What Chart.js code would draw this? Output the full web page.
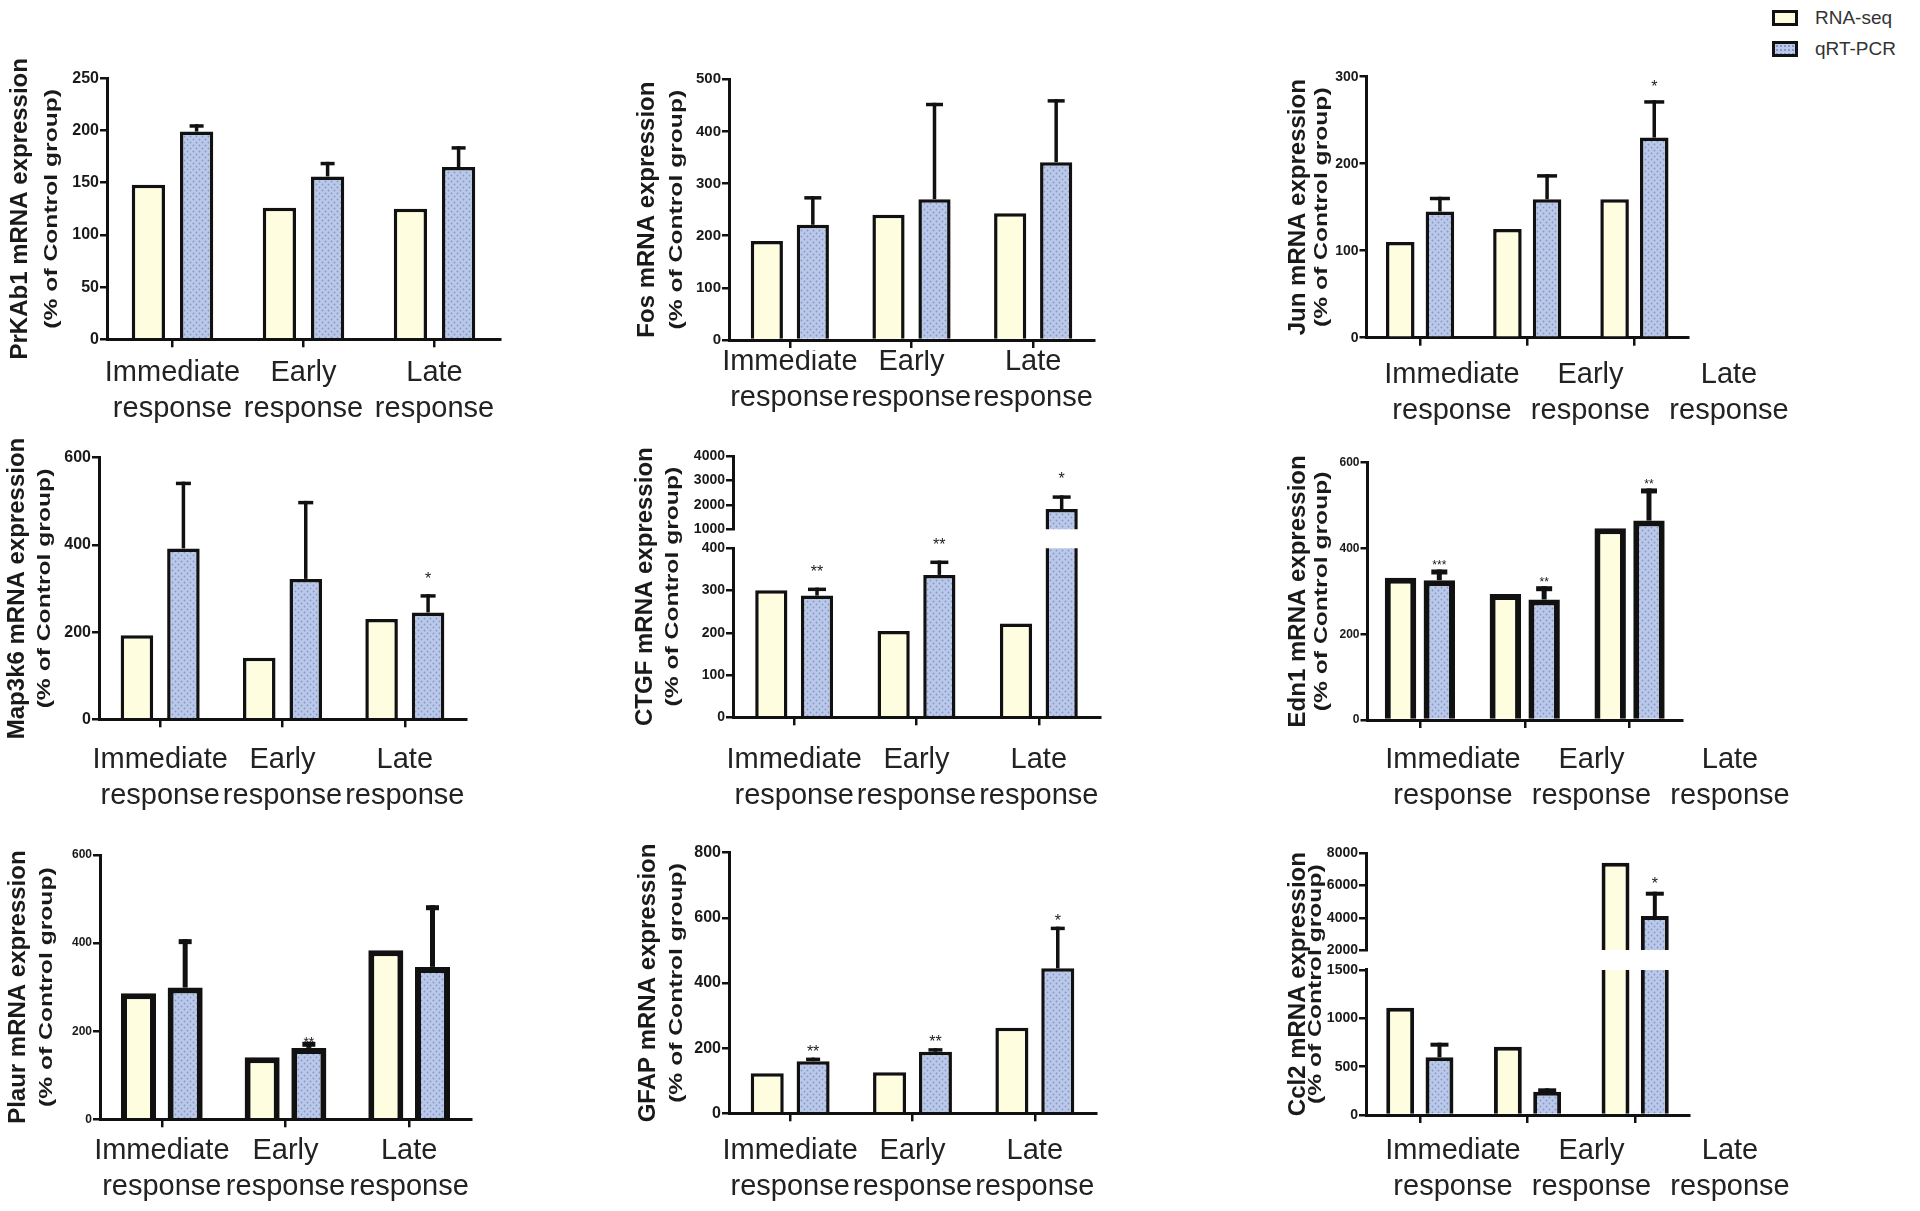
<!DOCTYPE html>
<html>
<head>
<meta charset="utf-8">
<script src="https://cdn.jsdelivr.net/npm/chart.js@4.4.1/dist/chart.umd.min.js"></script>
<style>
  body { margin: 0; width: 1920px; height: 1211px; background: #fff; position: relative; overflow: hidden; }
  .lg-box { position: absolute; width: 26px; height: 16px; border: 3px solid #111; box-sizing: border-box; }
  .lg-text { position: absolute; font: 19px "Liberation Sans", Arial, sans-serif; color: #333; line-height: 20px; }
  .cream { background: #FFFDE0; }
  .dots { background-color: #BAC8E9; background-image: radial-gradient(#8797C6 0.9px, transparent 1.1px); background-size: 4px 4px; }
</style>
</head>
<body>
<div class="lg-box cream" style="left:1772px;top:10px"></div>
<div class="lg-text" id="lg0" style="left:1815px;top:8px"></div>
<div class="lg-box dots" style="left:1772px;top:41px"></div>
<div class="lg-text" id="lg1" style="left:1815px;top:39px"></div>
<script>
const categories = [['Immediate', 'response'], ['Early', 'response'], ['Late', 'response']];
const seriesNames = ['RNA-seq', 'qRT-PCR'];
const genes = ['PrKAb1', 'Fos', 'Jun', 'Map3k6', 'CTGF', 'Edn1', 'Plaur', 'GFAP', 'Ccl2'];

// values are % of control group; sem = height of the error bar above the qRT-PCR mean
const prkab1RnaSeq = [148, 126, 125];
const prkab1Qpcr = [199, 156, 165];
const prkab1Sem = [7, 14, 20];
const prkab1Sig = ['', '', ''];

const fosRnaSeq = [190, 240, 243];
const fosQpcr = [221, 270, 341];
const fosSem = [55, 185, 121];
const fosSig = ['', '', ''];

const junRnaSeq = [110, 125, 159];
const junQpcr = [145, 159, 230];
const junSem = [17, 29, 43];
const junSig = ['', '', '*'];

const map3k6RnaSeq = [193, 141, 230];
const map3k6Qpcr = [392, 322, 245];
const map3k6Sem = [153, 179, 42];
const map3k6Sig = ['', '', '*'];

const ctgfRnaSeq = [301, 204, 222];
const ctgfQpcr = [288, 337, 1830];
const ctgfSem = [19, 34, 560];
const ctgfSig = ['**', '**', '*'];

const edn1RnaSeq = [332, 294, 447];
const edn1Qpcr = [326, 281, 465];
const edn1Sem = [25, 31, 75];
const edn1Sig = ['***', '**', '**'];

const plaurRnaSeq = [286, 141, 384];
const plaurQpcr = [299, 162, 346];
const plaurSem = [110, 14, 140];
const plaurSig = ['', '**', ''];

const gfapRnaSeq = [123, 126, 263];
const gfapQpcr = [160, 189, 445];
const gfapSem = [11, 11, 128];
const gfapSig = ['**', '**', '*'];

const ccl2RnaSeq = [1110, 707, 7420];
const ccl2Qpcr = [597, 241, 4110];
const ccl2Sem = [151, 35, 1507];
const ccl2Sig = ['', '', '*'];

const FONT = '"Liberation Sans", Arial, sans-serif';
const colX = [0, 620, 1275];
const YW = 48, TICKH = 10, XH = 100, LINE_H = 36;

document.getElementById('lg0').textContent = seriesNames[0];
document.getElementById('lg1').textContent = seriesNames[1];

// area = [left, top, right, bottom] of the plot in page pixels; labelY = centre of the first label line
// labelAt = [centre of first category label, spacing] when labels do not sit under the ticks
const panels = [
  { gene: genes[0], rna: prkab1RnaSeq, q: prkab1Qpcr, sem: prkab1Sem, sig: prkab1Sig, col: 0,
    y: { min: 0, max: 250, step: 50 }, area: [107, 78.3, 500, 339.3], titleX: [20, 52], labelY: 373,
    tickSize: 16, border: 3.5, cat: 0.736, bar: 0.69, errW: 3.5, capW: 14, sigGap: 17, sigSize: 16 },
  { gene: genes[1], rna: fosRnaSeq, q: fosQpcr, sem: fosSem, sig: fosSig, col: 1,
    y: { min: 0, max: 500, step: 100 }, area: [729, 79.3, 1094, 340], titleX: [647, 677], labelY: 362,
    tickSize: 15, border: 3.5, cat: 0.756, bar: 0.70, errW: 3.5, capW: 17, sigGap: 17, sigSize: 16 },
  { gene: genes[2], rna: junRnaSeq, q: junQpcr, sem: junSem, sig: junSig, col: 2,
    y: { min: 0, max: 300, step: 100 }, area: [1366.5, 76.7, 1688, 337.7], titleX: [1298, 1322], labelY: 375,
    labelAt: [1452, 138.5],
    tickSize: 14, border: 3.5, cat: 0.74, bar: 0.72, errW: 3.5, capW: 20, sigGap: 17, sigSize: 16 },
  { gene: genes[3], rna: map3k6RnaSeq, q: map3k6Qpcr, sem: map3k6Sem, sig: map3k6Sig, col: 0,
    y: { min: 0, max: 600, step: 200 }, area: [99, 457.7, 466, 719.3], titleX: [17, 45], labelY: 760,
    tickSize: 16, border: 3.5, cat: 0.76, bar: 0.70, errW: 3.5, capW: 15, sigGap: 19, sigSize: 16 },
  { gene: genes[4], rna: ctgfRnaSeq, q: ctgfQpcr, sem: ctgfSem, sig: ctgfSig, col: 1,
    y: { min: 0, max: 400, step: 100, h: 169 }, brk: { min: 1000, max: 4000, step: 1000, h: 73.3, gap: 19 },
    area: [733, 456, 1100, 717.3], titleX: [645, 673], labelY: 760,
    tickSize: 14, border: 3.5, cat: 0.747, bar: 0.705, errW: 3.5, capW: 18, sigGap: 20, sigSize: 16 },
  { gene: genes[5], rna: edn1RnaSeq, q: edn1Qpcr, sem: edn1Sem, sig: edn1Sig, col: 2,
    y: { min: 0, max: 600, step: 200 }, area: [1367.5, 462.7, 1682, 720], titleX: [1298, 1322], labelY: 760,
    labelAt: [1453, 138.5],
    tickSize: 12, border: 6, cat: 0.74, bar: 0.81, errW: 5, capW: 16, sigGap: 7, sigSize: 12 },
  { gene: genes[6], rna: plaurRnaSeq, q: plaurQpcr, sem: plaurSem, sig: plaurSig, col: 0,
    y: { min: 0, max: 600, step: 200 }, area: [100, 855, 471, 1119.3], titleX: [18, 47], labelY: 1151,
    tickSize: 12, border: 6, cat: 0.755, bar: 0.75, errW: 5, capW: 13, sigGap: 3, sigSize: 14 },
  { gene: genes[7], rna: gfapRnaSeq, q: gfapQpcr, sem: gfapSem, sig: gfapSig, col: 1,
    y: { min: 0, max: 800, step: 200 }, area: [729, 852.7, 1096, 1113.3], titleX: [648, 677], labelY: 1151,
    tickSize: 16, border: 3.5, cat: 0.75, bar: 0.72, errW: 3.5, capW: 14, sigGap: 10, sigSize: 16 },
  { gene: genes[8], rna: ccl2RnaSeq, q: ccl2Qpcr, sem: ccl2Sem, sig: ccl2Sig, col: 2,
    y: { min: 0, max: 1500, step: 500, h: 145 }, brk: { min: 2000, max: 8000, step: 2000, h: 96.7, gap: 20 },
    area: [1366, 853.3, 1689, 1115], titleX: [1298, 1316], labelY: 1151,
    labelAt: [1453, 138.5],
    tickSize: 14, border: 4, cat: 0.73, bar: 0.71, errW: 4, capW: 18, sigGap: 12, sigSize: 16 }
];

function dotPattern(ctx) {
  const tile = document.createElement('canvas');
  tile.width = 6; tile.height = 6;
  const g = tile.getContext('2d');
  g.fillStyle = '#BAC8E9';
  g.fillRect(0, 0, 6, 6);
  g.fillStyle = '#8797C6';
  [[1.5, 1.5], [4.5, 4.5]].forEach(([x, y]) => { g.beginPath(); g.arc(x, y, 0.9, 0, Math.PI * 2); g.fill(); });
  return ctx.createPattern(tile, 'repeat');
}

function valueAxis(p, cfg, extra) {
  return Object.assign({
    type: 'linear', axis: 'y', position: 'left', min: cfg.min, max: cfg.max,
    afterFit: s => { s.width = YW; },
    ticks: { stepSize: cfg.step, autoSkip: false, callback: v => String(v),
             font: { family: FONT, size: p.tickSize, weight: 'bold' }, color: '#1a1a1a', padding: 1 },
    grid: { drawOnChartArea: false, drawTicks: true, tickLength: 7, tickWidth: 2.5, tickColor: '#111', color: '#111', lineWidth: 2.5 },
    border: { display: true, color: '#111', width: 3 }
  }, extra);
}

function buildPanel(p) {
  const cx = colX[p.col];
  const [l, t, r, b] = p.area;
  const cy = Math.round(t - 60);
  const canvas = document.createElement('canvas');
  canvas.width = Math.round((p.labelAt ? 1915 : r + 40) - cx);
  canvas.height = Math.round(b - cy + TICKH + XH);
  canvas.style.cssText = `position:absolute;left:${cx}px;top:${cy}px;`;
  document.body.appendChild(canvas);
  const ctx = canvas.getContext('2d');
  const pattern = dotPattern(ctx);

  // label axis range: categories sit at 0, 1, 2
  const w = r - l;
  let lmin = -0.5, lmax = 2.5;
  if (p.labelAt) {
    const [c0, step] = p.labelAt;
    lmin = -(c0 - l) / step;
    lmax = lmin + w / step;
  }

  const scales = {
    x: {
      type: 'category', offset: true, weight: 0,
      afterFit: s => { s.height = TICKH; s.paddingLeft = 0; s.paddingRight = 0; },
      grid: { offset: false, drawOnChartArea: false, drawTicks: true, tickLength: 8, tickWidth: 2.5, tickColor: '#111', color: '#111', lineWidth: 2.5 },
      border: { display: true, color: '#111', width: 3 },
      ticks: { display: false }
    },
    xl: {
      type: 'linear', axis: 'x', position: 'bottom', weight: 1, offset: false, bounds: 'data', min: lmin, max: lmax,
      afterBuildTicks: s => { s.ticks = categories.map((c, i) => ({ value: i })); },
      afterFit: s => { s.height = XH; s.paddingLeft = 0; s.paddingRight = 0; },
      grid: { display: false, drawTicks: false, offset: false },
      border: { display: false },
      ticks: { callback: (v, i) => categories[i], autoSkip: false, maxRotation: 0, minRotation: 0,
               font: { family: FONT, size: 29, lineHeight: LINE_H / 29 }, color: '#222',
               padding: p.labelY - b - TICKH - LINE_H / 2 }
    }
  };

  const bar = (label, data, fill, axisId, stack) => {
    const ds = { label, data, backgroundColor: fill, borderColor: '#111', borderWidth: p.border,
                 categoryPercentage: p.cat, barPercentage: p.bar, clip: 0, xAxisID: 'x', yAxisID: axisId };
    if (stack) ds.stack = stack;
    return ds;
  };

  let datasets;
  if (p.brk) {
    const total = p.brk.h + p.brk.gap + p.y.h;
    scales.yTop = valueAxis(p, p.brk, { stack: 'v', stackWeight: p.brk.h / total, weight: 3 });
    scales.yGap = { type: 'linear', axis: 'y', position: 'left', min: 0, max: 1, stack: 'v',
                    stackWeight: p.brk.gap / total, weight: 2, afterFit: s => { s.width = YW; },
                    ticks: { display: false }, grid: { display: false }, border: { display: false } };
    scales.y = valueAxis(p, p.y, { stack: 'v', stackWeight: p.y.h / total, weight: 1 });
    datasets = [
      bar(seriesNames[0], p.rna, '#FFFDE0', 'y', 'a'),
      bar(seriesNames[1], p.q, pattern, 'y', 'b'),
      bar(seriesNames[0], p.rna, '#FFFDE0', 'yTop', 'a'),
      bar(seriesNames[1], p.q, pattern, 'yTop', 'b')
    ];
  } else {
    scales.y = valueAxis(p, p.y, {});
    datasets = [
      bar(seriesNames[0], p.rna, '#FFFDE0', 'y'),
      bar(seriesNames[1], p.q, pattern, 'y')
    ];
  }

  const extras = {
    id: 'extras' + p.gene,
    afterDatasetsDraw(chart) {
      const c = chart.ctx;
      const yB = chart.scales.y, yT = chart.scales.yTop;
      const px = v => (yT && v >= yT.min) ? yT.getPixelForValue(v) : yB.getPixelForValue(v);
      const meta = chart.getDatasetMeta(1);
      c.save();
      c.strokeStyle = '#111';
      c.fillStyle = '#1a1a1a';
      c.lineCap = 'butt';
      p.q.forEach((v, i) => {
        const x = meta.data[i].x;
        const y0 = px(v);
        const y1 = px(v + p.sem[i]);
        c.lineWidth = p.errW;
        c.beginPath();
        c.moveTo(x, y0);
        c.lineTo(x, y1);
        c.stroke();
        c.beginPath();
        c.moveTo(x - p.capW / 2, y1 + p.errW / 2);
        c.lineTo(x + p.capW / 2, y1 + p.errW / 2);
        c.stroke();
        if (p.sig[i]) {
          c.font = `${p.sigSize}px ${FONT}`;
          c.textAlign = 'center';
          c.textBaseline = 'alphabetic';
          c.fillText(p.sig[i], x, y1 - p.sigGap + 0.57 * p.sigSize);
        }
      });
      c.restore();
    },
    afterDraw(chart) {
      const c = chart.ctx;
      const a = chart.chartArea;
      const midY = (a.top + a.bottom) / 2;
      c.save();
      c.fillStyle = '#1a1a1a';
      c.textAlign = 'center';
      c.textBaseline = 'middle';
      c.translate(p.titleX[0] - cx, midY);
      c.rotate(-Math.PI / 2);
      c.font = `bold 24px ${FONT}`;
      c.fillText(p.gene + ' mRNA expression', 0, 0);
      c.restore();
      c.save();
      c.fillStyle = '#1a1a1a';
      c.textAlign = 'center';
      c.textBaseline = 'middle';
      c.translate(p.titleX[1] - cx, midY);
      c.rotate(-Math.PI / 2);
      c.scale(1.37, 1);
      c.font = `bold 18px ${FONT}`;
      c.fillText('(% of Control group)', 0, 0);
      c.restore();
    }
  };

  new Chart(canvas, {
    type: 'bar',
    data: { labels: categories, datasets },
    options: {
      responsive: false,
      animation: false,
      events: [],
      layout: {
        padding: {
          left: l - cx - YW,
          top: t - cy,
          right: canvas.width - (r - cx),
          bottom: canvas.height - (b - cy) - TICKH - XH
        }
      },
      scales,
      plugins: { legend: { display: false }, tooltip: { enabled: false } }
    },
    plugins: [extras]
  });
}

panels.forEach(buildPanel);
</script>
</body>
</html>
